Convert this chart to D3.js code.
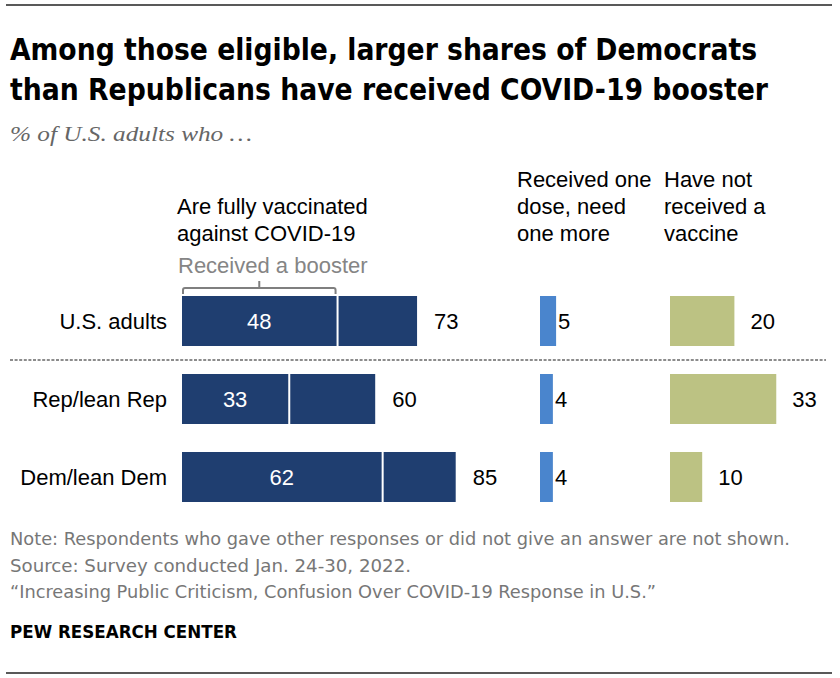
<!DOCTYPE html>
<html>
<head>
<meta charset="utf-8">
<script src="https://cdn.jsdelivr.net/npm/d3@7"></script>
<style>
  html, body { margin: 0; padding: 0; background: #fff; }
  svg { display: block; }
  .cond { font-family: "Liberation Sans Narrow", "DejaVu Sans Condensed", "Roboto Condensed", "Arial Narrow", sans-serif; font-stretch: condensed; }
  .sans { font-family: "Liberation Sans", Arial, Helvetica, sans-serif; }
</style>
</head>
<body>
<svg id="chart" width="840" height="678"></svg>
<script>
// ---- data ----
const categories = ["U.S. adults", "Rep/lean Rep", "Dem/lean Dem"];
const fullyVaccinated = [73, 60, 85];
const booster = [48, 33, 62];
const oneDose = [5, 4, 4];
const notVaccinated = [20, 33, 10];

const titleLines = [
  "Among those eligible, larger shares of Democrats",
  "than Republicans have received COVID-19 booster"
];
const subtitle = "% of U.S. adults who \u2026";
const headerFull = ["Are fully vaccinated", "against COVID-19"];
const headerBooster = "Received a booster";
const headerOne = ["Received one", "dose, need", "one more"];
const headerNot = ["Have not", "received a", "vaccine"];
const notes = [
  "Note: Respondents who gave other responses or did not give an answer are not shown.",
  "Source: Survey conducted Jan. 24-30, 2022.",
  "\u201cIncreasing Public Criticism, Confusion Over COVID-19 Response in U.S.\u201d"
];
const credit = "PEW RESEARCH CENTER";

// ---- layout ----
const svg = d3.select("#chart");
const navy = "#1f3e70", blue = "#4a85cd", olive = "#bcc283";
const FS = 22;

const y = d3.scaleBand().domain(categories).range([268, 530]).paddingInner(28/78).paddingOuter(28/78);
const w = d3.scaleLinear().domain([0, 100]).range([0, 322]);
const x0Full = 182, x0One = 540, x0Not = 670;

// rules
svg.append("line").attr("x1", 6).attr("x2", 832).attr("y1", 5).attr("y2", 5).attr("stroke", "#222").attr("stroke-width", 1.5);
svg.append("line").attr("x1", 6).attr("x2", 832).attr("y1", 673).attr("y2", 673).attr("stroke", "#222").attr("stroke-width", 1.5);

// title
const titleW = [747, 758];
titleLines.forEach((t, i) => {
  svg.append("text").attr("class", "cond").attr("x", 10).attr("y", 60 + i * 40)
    .attr("font-size", 31).attr("font-weight", "bold").attr("fill", "#000")
    .attr("textLength", titleW[i]).attr("lengthAdjust", "spacingAndGlyphs")
    .text(t);
});
svg.append("text").attr("x", 10).attr("y", 141)
  .attr("font-family", "'Liberation Serif', 'DejaVu Serif', Georgia, serif")
  .attr("font-style", "italic").attr("font-size", 21).attr("fill", "#666")
  .attr("textLength", 242).attr("lengthAdjust", "spacingAndGlyphs")
  .text(subtitle);

// headers
const hdr = (lines, x, y0) => lines.forEach((t, i) => {
  svg.append("text").attr("class", "sans").attr("x", x).attr("y", y0 + i * 27)
    .attr("font-size", FS).attr("fill", "#000").text(t);
});
hdr(headerFull, 177, 214);
hdr(headerOne, 517, 187);
hdr(headerNot, 664, 187);
svg.append("text").attr("class", "sans").attr("x", 178).attr("y", 273)
  .attr("font-size", FS).attr("fill", "#858585").text(headerBooster);

// bracket
const bx1 = x0Full + 1, bx2 = x0Full + w(booster[0]) - 1, bm = (bx1 + bx2) / 2;
svg.append("path")
  .attr("d", `M${bx1},294 V290 Q${bx1},288 ${bx1 + 2},288 H${bm} V281 M${bm},288 H${bx2 - 2} Q${bx2},288 ${bx2},290 V294`)
  .attr("fill", "none").attr("stroke", "#7f7f7f").attr("stroke-width", 2);

// separator
svg.append("line").attr("x1", 10).attr("x2", 826).attr("y1", 360).attr("y2", 360)
  .attr("stroke", "#8c8c8c").attr("stroke-width", 2.2).attr("stroke-dasharray", "3,1.6");

// rows
const rows = svg.append("g");
categories.forEach((c, i) => {
  const yy = y(c), h = y.bandwidth(), cy = yy + h / 2;
  rows.append("text").attr("class", "sans").attr("x", 167).attr("y", cy + 7.5)
    .attr("text-anchor", "end").attr("font-size", FS).attr("fill", "#000").text(c);
  // fully vaccinated
  rows.append("rect").attr("x", x0Full).attr("y", yy).attr("width", w(fullyVaccinated[i])).attr("height", h).attr("fill", navy);
  rows.append("rect").attr("x", x0Full + w(booster[i])).attr("y", yy).attr("width", 2).attr("height", h).attr("fill", "#fff");
  rows.append("text").attr("class", "sans").attr("x", x0Full + w(booster[i]) / 2).attr("y", cy + 7.5)
    .attr("text-anchor", "middle").attr("font-size", FS).attr("fill", "#fff").text(booster[i]);
  rows.append("text").attr("class", "sans").attr("x", x0Full + w(fullyVaccinated[i]) + 17).attr("y", cy + 7.5)
    .attr("font-size", FS).attr("fill", "#000").text(fullyVaccinated[i]);
  // one dose
  rows.append("rect").attr("x", x0One).attr("y", yy).attr("width", w(oneDose[i])).attr("height", h).attr("fill", blue);
  rows.append("text").attr("class", "sans").attr("x", x0One + w(oneDose[i]) + 2).attr("y", cy + 7.5)
    .attr("font-size", FS).attr("fill", "#000").text(oneDose[i]);
  // not vaccinated
  rows.append("rect").attr("x", x0Not).attr("y", yy).attr("width", w(notVaccinated[i])).attr("height", h).attr("fill", olive);
  rows.append("text").attr("class", "sans").attr("x", x0Not + w(notVaccinated[i]) + 16).attr("y", cy + 7.5)
    .attr("font-size", FS).attr("fill", "#000").text(notVaccinated[i]);
});

// notes
const noteW = [780, 401, 646];
notes.forEach((t, i) => {
  svg.append("text").attr("class", "cond").attr("x", 10).attr("y", 545 + i * 26.5)
    .attr("font-size", 18).attr("fill", "#777")
    .attr("textLength", noteW[i]).attr("lengthAdjust", "spacingAndGlyphs").text(t);
});
svg.append("text").attr("class", "cond").attr("x", 10).attr("y", 638)
  .attr("font-size", 18).attr("font-weight", "bold").attr("fill", "#000")
  .attr("textLength", 227).attr("lengthAdjust", "spacingAndGlyphs").text(credit);
</script>
</body>
</html>
